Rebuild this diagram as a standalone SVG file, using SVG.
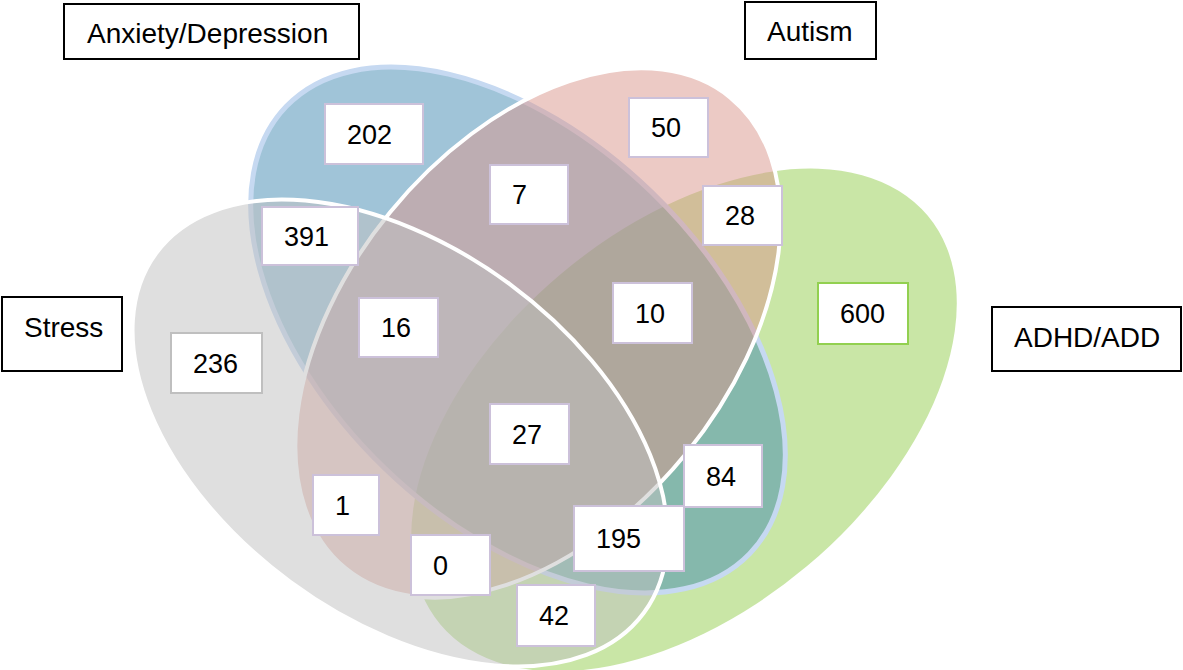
<svg xmlns="http://www.w3.org/2000/svg" width="1183" height="670" viewBox="0 0 1183 670">
<style>
.num rect{fill:#fff;stroke:#ccc1da;stroke-width:2}
.lbl rect{fill:#fff;stroke:#000;stroke-width:2}
text{font-family:"Liberation Sans",Arial,sans-serif;font-size:27px;fill:#000}
.lbl text{font-size:28px}
</style>
<rect width="1183" height="670" fill="#fff"/>
<g id="sets">
<g id="set-adhd"><ellipse cx="684" cy="420" rx="318" ry="191" transform="rotate(-40 684 420)" fill="#93cd4d" fill-opacity="0.5"/></g>
<g id="set-anxiety"><ellipse cx="518" cy="330" rx="322" ry="192" transform="rotate(44 518 330)" fill="#4189b1" fill-opacity="0.5" stroke="#c6d9f1" stroke-width="5"/></g>
<g id="set-autism"><ellipse cx="538" cy="333" rx="304" ry="191" transform="rotate(-50.75 538 333)" fill="#d9958b" fill-opacity="0.5" stroke="#fff" stroke-width="4"/></g>
<g id="set-stress"><ellipse cx="400" cy="433" rx="303" ry="185" transform="rotate(36.4 400 433)" fill="#bfbfbf" fill-opacity="0.5" stroke="#fff" stroke-width="4"/></g>
</g>
<g id="connectors"></g>
<g id="n202" class="num"><rect x="325" y="104" width="98" height="60"/><text x="347" y="144">202</text></g>
<g id="n391" class="num"><rect x="262" y="207" width="96" height="58"/><text x="284" y="246">391</text></g>
<g id="n7" class="num"><rect x="490" y="165" width="78" height="59"/><text x="512" y="204">7</text></g>
<g id="n16" class="num"><rect x="359" y="298" width="79" height="59"/><text x="381" y="337">16</text></g>
<g id="n50" class="num"><rect x="629" y="98" width="79" height="59"/><text x="651" y="137">50</text></g>
<g id="n28" class="num"><rect x="703" y="186" width="79" height="59"/><text x="725" y="225">28</text></g>
<g id="n10" class="num"><rect x="613" y="283" width="79" height="60"/><text x="635" y="323">10</text></g>
<g id="n600" class="num"><rect x="818" y="283" width="90" height="61" style="stroke:#92d050"/><text x="840" y="323">600</text></g>
<g id="n236" class="num"><rect x="171" y="333" width="91" height="60" style="stroke:#bfbfbf"/><text x="193" y="373">236</text></g>
<g id="n27" class="num"><rect x="490" y="404" width="79" height="60"/><text x="512" y="444">27</text></g>
<g id="n1" class="num"><rect x="313" y="475" width="66" height="60"/><text x="335" y="515">1</text></g>
<g id="n0" class="num"><rect x="411" y="535" width="79" height="60"/><text x="433" y="575">0</text></g>
<g id="n195" class="num"><rect x="574" y="506" width="110" height="65"/><text x="596" y="548">195</text></g>
<g id="n42" class="num"><rect x="517" y="585" width="78" height="61"/><text x="539" y="625">42</text></g>
<g id="n84" class="num"><rect x="684" y="445" width="78" height="62"/><text x="706" y="486">84</text></g>
<g id="lbl-anxiety" class="lbl"><rect x="64" y="4" width="295" height="55"/><text x="87" y="43">Anxiety/Depression</text></g>
<g id="lbl-autism" class="lbl"><rect x="745" y="2" width="131" height="57"/><text x="767" y="41">Autism</text></g>
<g id="lbl-stress" class="lbl"><rect x="2" y="297" width="120" height="74"/><text x="24" y="337">Stress</text></g>
<g id="lbl-adhd" class="lbl"><rect x="992" y="307" width="189" height="64"/><text x="1014" y="347">ADHD/ADD</text></g>
</svg>
